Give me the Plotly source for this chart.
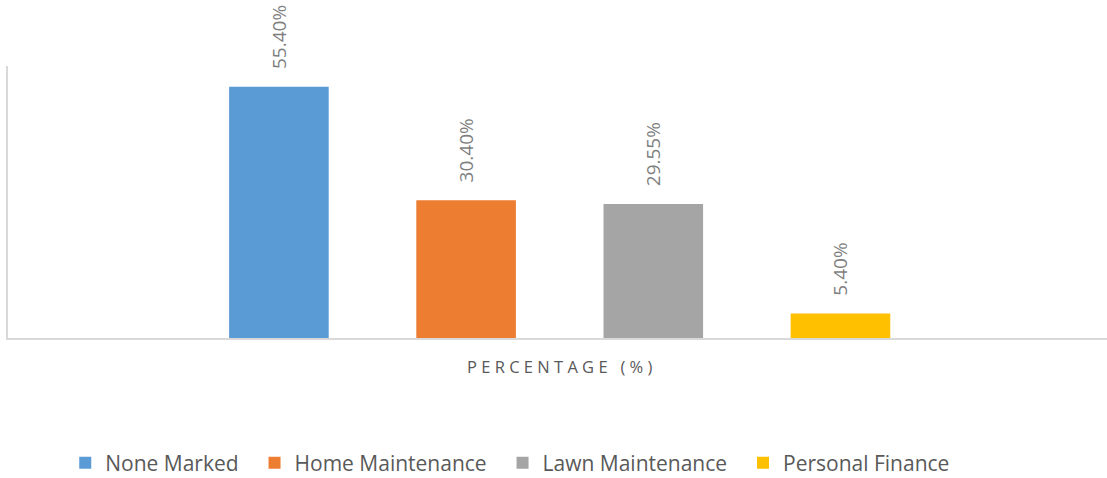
import plotly.graph_objects as go

categories = ["None Marked", "Home Maintenance", "Lawn Maintenance", "Personal Finance"]
values = [55.40, 30.40, 29.55, 5.40]
colors = ["#5B9BD5", "#ED7D31", "#A5A5A5", "#FFC000"]
group_label = "PERCENTAGE (%)"

NBSP = "\u00a0"
tick_text = NBSP.join(list("PERCENTAGE")) + NBSP * 3 + NBSP.join(list("(%)"))

fig = go.Figure()
for name, val, col in zip(categories, values, colors):
    fig.add_trace(go.Bar(
        x=[group_label], y=[val], name=name + NBSP * 2,
        marker=dict(color=col, line=dict(width=0)),
        text=[NBSP * 3 + f"{val:.2f}%"],
        textposition="outside", textangle=-90,
        outsidetextfont=dict(family="Open Sans", size=19, color="#7F7F7F"),
        cliponaxis=False,
    ))

fig.update_layout(
    width=1107, height=478,
    margin=dict(l=8, r=0, t=66, b=140, autoexpand=False),
    paper_bgcolor="white", plot_bgcolor="white",
    barmode="group", bargap=0.316, bargroupgap=0.468,
    font=dict(family="Open Sans", color="#595959"),
    showlegend=True,
    legend=dict(orientation="h", x=0.462, xanchor="center", y=-0.46, yanchor="middle",
                font=dict(family="Open Sans", size=21, color="#595959"),
                traceorder="normal"),
    xaxis=dict(showline=True, linecolor="#D9D9D9", linewidth=2, showgrid=False,
               range=[-0.504, 0.5],
               ticks="", tickmode="array", tickvals=[group_label], ticktext=[tick_text],
               ticklabelstandoff=13,
               tickfont=dict(family="Open Sans", size=16.5, color="#595959"), fixedrange=True),
    yaxis=dict(range=[0, 60], showline=True, linecolor="#D9D9D9", linewidth=2,
               showgrid=False, showticklabels=False, ticks="", zeroline=False),
)

fig.write_html("out.html", config={"displayModeBar": False},
               post_script="document.body.style.margin='0';document.body.style.overflow='hidden';")
